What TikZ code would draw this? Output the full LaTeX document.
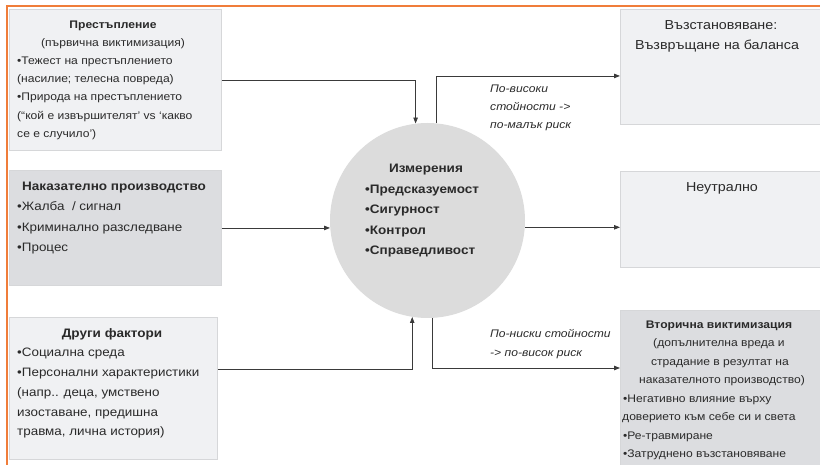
\documentclass[tikz,border=0pt]{standalone}
\usepackage{fontspec}
\setmainfont{Liberation Sans}[FakeStretch=1.1]
\usetikzlibrary{arrows.meta}
\definecolor{orng}{HTML}{F07D3A}
\definecolor{boxlight}{HTML}{F0F1F3}
\definecolor{boxdark}{HTML}{DCDDE0}
\definecolor{boxline}{HTML}{D6D7D9}
\definecolor{circfill}{HTML}{DCDCDC}
\definecolor{lin}{HTML}{3A3A3A}
\definecolor{ink}{HTML}{2A2A2A}
\begin{document}
\begin{tikzpicture}[x=1pt,y=-1pt,
  box/.style={draw=boxline, line width=0.9pt, anchor=north west, inner sep=0},
  lbox/.style={box, fill=boxlight},
  dbox/.style={box, fill=boxdark},
  txt/.style={inner sep=0, text=ink, font=\fontsize{11}{13}\selectfont},
  ttl/.style={inner sep=0, text=ink, font=\fontsize{11}{13}\selectfont\bfseries},
  mtxt/.style={inner sep=0, text=ink, font=\fontsize{12.2}{14}\selectfont},
  mttl/.style={inner sep=0, text=ink, font=\fontsize{12.3}{14}\selectfont\bfseries},
  big/.style={inner sep=0, text=ink, font=\fontsize{13}{15}\selectfont},
  ctxt/.style={inner sep=0, text=ink, font=\fontsize{12.3}{14}\selectfont\bfseries},
  itx/.style={inner sep=0, text=ink, font=\fontsize{11}{12}\selectfont\itshape},
  conn/.style={draw=lin, line width=0.8pt, -{Triangle[length=6pt,width=4.5pt]}}
]
\useasboundingbox (0,0) rectangle (820,465);
\draw[orng, line width=1.6pt] (7,470) -- (7,6) -- (825,6);

% left boxes
\node[lbox, minimum width=212pt, minimum height=141pt] (b1) at (9,9) {};
\node[dbox, minimum width=212pt, minimum height=115pt] (b2) at (9,170) {};
\node[lbox, minimum width=208pt, minimum height=142pt] (b3) at (9,317) {};
% right boxes
\node[lbox, minimum width=216pt, minimum height=115pt] (r1) at (620,9) {};
\node[lbox, minimum width=216pt, minimum height=96pt] (r2) at (620,171) {};
\node[dbox, minimum width=216pt, minimum height=160pt] (r3) at (620,310) {};
% circle
\node[circle, fill=circfill, minimum size=195pt, inner sep=0] (c) at (427.5,220.5) {};

% box 1 text
\node[ttl, anchor=base] (t11) at (113,28.3) {Престъпление};
\node[txt, anchor=base] (t12) at (113,46.5) {(първична виктимизация)};
\node[txt, anchor=base west] (t13) at (17,64.5) {•Тежест на престъплението};
\node[txt, anchor=base west] (t14) at (17,82.7) {(насилие; телесна повреда)};
\node[txt, anchor=base west] (t15) at (17,100.9) {•Природа на престъплението};
\node[txt, anchor=base west] (t16) at (17,119.1) {(“кой е извършителят’ vs ‘какво};
\node[txt, anchor=base west] (t17) at (17,137.3) {се е случило’)};

% box 2 text
\node[mttl, anchor=base west] (t21) at (22,190.7) {Наказателно производство};
\node[mtxt, anchor=base west] (t22) at (17,210.9) {•Жалба\ \ / сигнал};
\node[mtxt, anchor=base west] (t23) at (17,231.3) {•Криминално разследване};
\node[mtxt, anchor=base west] (t24) at (17,251.7) {•Процес};

% box 3 text
\node[mttl, anchor=base] (t31) at (112,337.3) {Други фактори};
\node[mtxt, anchor=base west] (t32) at (17,356.9) {•Социална среда};
\node[mtxt, anchor=base west] (t33) at (17,376.6) {•Персонални характеристики};
\node[mtxt, anchor=base west] (t34) at (17,396.3) {(напр.. деца, умствено};
\node[mtxt, anchor=base west] (t35) at (17,416) {изоставане, предишна};
\node[mtxt, anchor=base west] (t36) at (17,435.7) {травма, лична история)};

% right texts
\node[big, anchor=base] (u11) at (721,30) {Възстановяване:};
\node[big, anchor=base] (u12) at (717,50) {Възвръщане на баланса};
\node[big, anchor=base] (u21) at (722,191.7) {Неутрално};
\node[ttl, anchor=base] (u31) at (719,328.3) {Вторична виктимизация};
\node[txt, anchor=base] (u32) at (719,346.8) {(допълнителна вреда и};
\node[txt, anchor=base] (u33) at (720,365.3) {страдание в резултат на};
\node[txt, anchor=base] (u34) at (722,383.8) {наказателното производство)};
\node[txt, anchor=base west] (u35) at (623,402.3) {•Негативно влияние върху};
\node[txt, anchor=base west] (u36) at (622,420.8) {доверието към себе си и света};
\node[txt, anchor=base west] (u37) at (623,439.3) {•Ре-травмиране};
\node[txt, anchor=base west] (u38) at (623,457.8) {•Затруднено възстановяване};

% circle text
\node[ctxt, anchor=base] (m0) at (426,173) {Измерения};
\node[ctxt, anchor=base west] (m1) at (365,193.5) {•Предсказуемост};
\node[ctxt, anchor=base west] (m2) at (365,214) {•Сигурност};
\node[ctxt, anchor=base west] (m3) at (365,234.5) {•Контрол};
\node[ctxt, anchor=base west] (m4) at (365,255) {•Справедливост};

% italic labels
\node[itx, anchor=base west] (h1) at (490,92.7) {По-високи};
\node[itx, anchor=base west] (h2) at (490,110.5) {стойности ->};
\node[itx, anchor=base west] (h3) at (490,128.3) {по-малък риск};
\node[itx, anchor=base west] (l1) at (490,337.3) {По-ниски стойности};
\node[itx, anchor=base west] (l2) at (490,356) {-> по-висок риск};

% connectors
\draw[conn] ([yshift=-0.5pt]b1.east) -| (c.97);
\draw[conn] (b2.east) -- (c.184 |- b2.east);
\draw[conn] ([yshift=-52pt]b3.north east) -| (c.261);
\draw[conn] (c.85) |- ([yshift=-9pt]r1.west);
\draw[conn] (c.356) -- (r2.west |- c.356);
\draw[conn] (c.273) |- ([yshift=-58pt]r3.north west);
\end{tikzpicture}
\end{document}
